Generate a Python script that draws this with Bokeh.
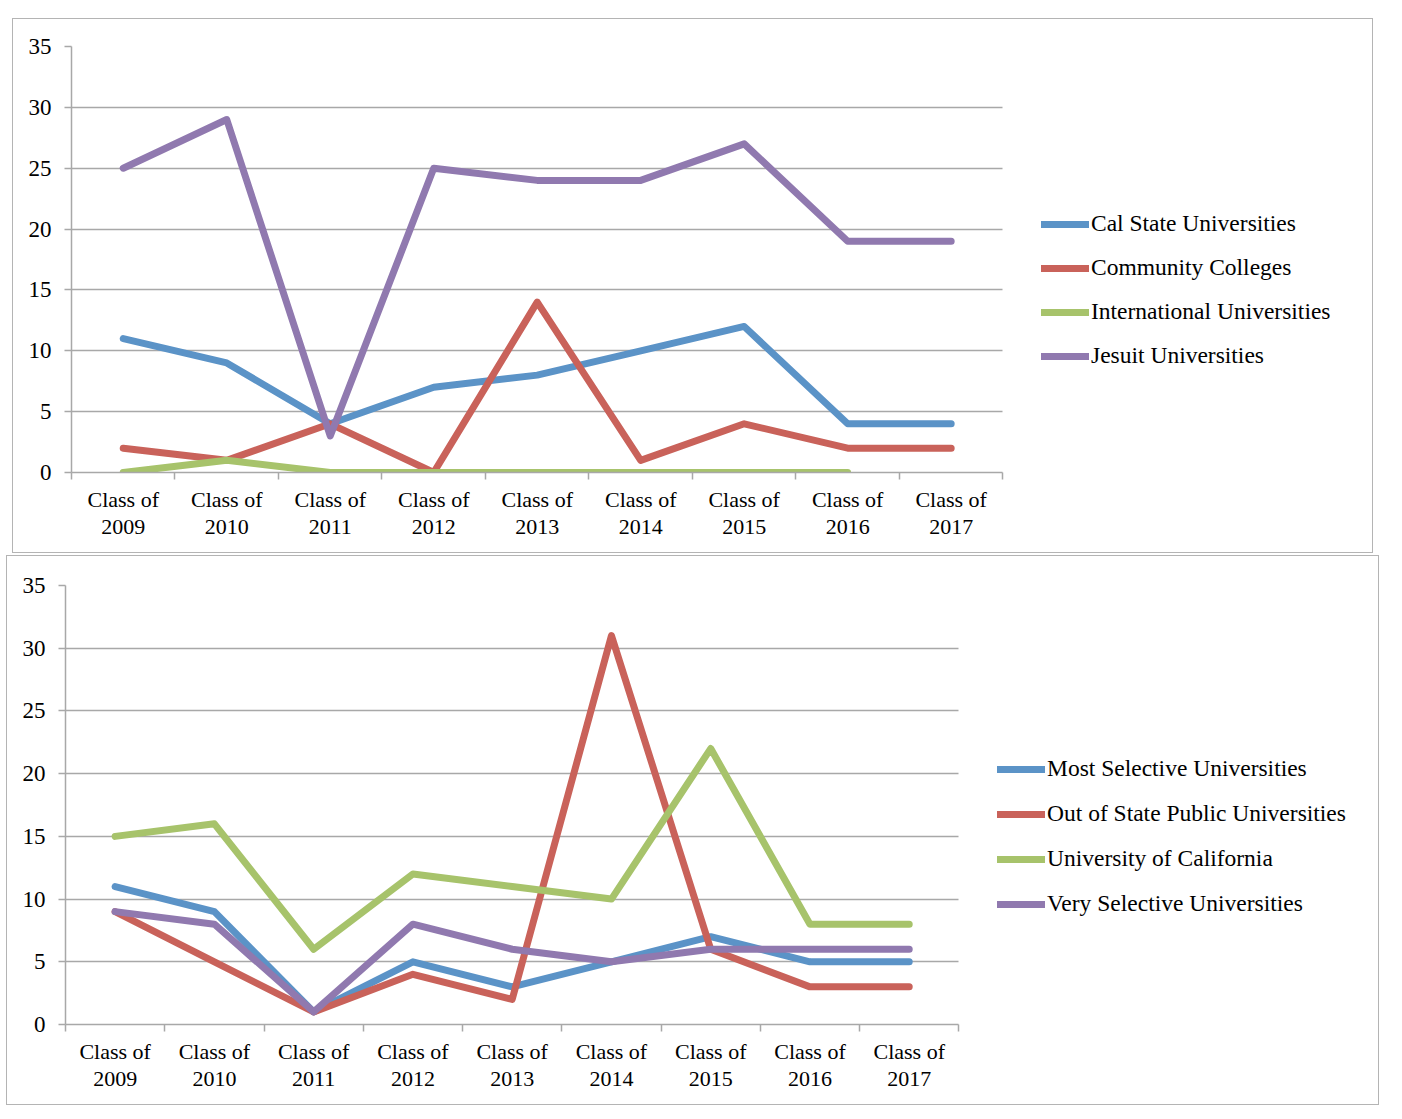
import numpy as np
from bokeh.plotting import figure
from bokeh.models import FixedTicker, Legend, LegendItem, Range1d
from bokeh.layouts import column
from bokeh.embed import file_html
from bokeh.resources import INLINE

# ---------------- data ----------------
categories = ["Class of 2009", "Class of 2010", "Class of 2011", "Class of 2012",
              "Class of 2013", "Class of 2014", "Class of 2015", "Class of 2016",
              "Class of 2017"]
y_ticks = [0, 5, 10, 15, 20, 25, 30, 35]

top_names = ["Cal State Universities", "Community Colleges",
             "International Universities", "Jesuit Universities"]
cal_state = [11, 9, 4, 7, 8, 10, 12, 4, 4]
community_colleges = [2, 1, 4, 0, 14, 1, 4, 2, 2]
international = [0, 1, 0, 0, 0, 0, 0, 0]          # no value for 2017
jesuit = [25, 29, 3, 25, 24, 24, 27, 19, 19]

bottom_names = ["Most Selective Universities", "Out of State Public Universities",
                "University of California", "Very Selective Universities"]
most_selective = [11, 9, 1, 5, 3, 5, 7, 5, 5]
out_of_state_public = [9, 5, 1, 4, 2, 31, 6, 3, 3]
univ_california = [15, 16, 6, 12, 11, 10, 22, 8, 8]
very_selective = [9, 8, 1, 8, 6, 5, 6, 6, 6]

colors = ["#5b93c7", "#c9625a", "#a7c36b", "#9079af"]

FONT = "Liberation Serif"
GRID = "#a8a8a8"


def make_chart(series, names, frame_w, data_w, frame_h, b_left, b_top, b_bottom,
               legend_xy, legend_spacing, margin):
    n = len(categories)
    centers = [i + 0.5 for i in range(n)]
    x_end = n * frame_w / data_w          # frame also holds the legend area
    p = figure(frame_width=frame_w, frame_height=frame_h, output_backend="svg",
               toolbar_location=None, x_range=Range1d(0, x_end),
               y_range=Range1d(0, 35),
               min_border_left=b_left, min_border_right=0,
               min_border_top=b_top, min_border_bottom=b_bottom)
    p.margin = margin
    p.styles = {"border": "1.5px solid #b4b4b4"}
    p.outline_line_color = None
    p.background_fill_color = "white"
    p.border_fill_color = "white"

    # x axis: labels at category centres, ticks at category boundaries
    p.xaxis.bounds = (0, n)
    p.xaxis.ticker = FixedTicker(ticks=centers, minor_ticks=list(range(n + 1)))
    p.xaxis.major_label_overrides = {
        c: lab.rsplit(" ", 1)[0] + "\n" + lab.rsplit(" ", 1)[1]
        for c, lab in zip(centers, categories)}
    p.xaxis.major_tick_line_color = None
    p.xaxis.major_tick_out = 0
    p.xaxis.major_tick_in = 0
    p.xaxis.minor_tick_line_color = GRID
    p.xaxis.minor_tick_line_width = 1.5
    p.xaxis.minor_tick_out = 7
    p.xaxis.minor_tick_in = 0
    p.xaxis.major_label_standoff = 7
    p.xaxis.major_label_text_line_height = 1.08
    p.xaxis.axis_line_color = GRID
    p.xaxis.axis_line_width = 1.5
    p.xaxis.major_label_text_font_size = "22px"

    p.yaxis.ticker = FixedTicker(ticks=y_ticks)
    p.yaxis.major_tick_out = 7
    p.yaxis.major_tick_in = 0
    p.yaxis.major_tick_line_color = GRID
    p.yaxis.major_tick_line_width = 1.5
    p.yaxis.minor_tick_line_color = None
    p.yaxis.major_label_standoff = 13
    p.yaxis.axis_line_color = GRID
    p.yaxis.axis_line_width = 1.5
    p.yaxis.major_label_text_font_size = "23px"

    for ax in (p.xaxis, p.yaxis):
        ax.major_label_text_font = FONT
        ax.major_label_text_color = "black"

    p.xgrid.grid_line_color = None
    p.ygrid.ticker = FixedTicker(ticks=y_ticks)
    p.ygrid.cross_bounds = (0, n)
    p.ygrid.grid_line_color = GRID
    p.ygrid.grid_line_width = 1.5

    items = []
    for vals, name, col in zip(series, names, colors):
        xs = centers[:len(vals)]
        r = p.line(xs, vals, line_color=col, line_width=7,
                   line_cap="round", line_join="round")
        items.append(LegendItem(label=name, renderers=[r]))

    legend = Legend(items=items, location=legend_xy)
    legend.border_line_color = None
    legend.background_fill_alpha = 0
    legend.padding = 0
    legend.margin = 0
    legend.spacing = legend_spacing
    legend.glyph_width = 48
    legend.glyph_height = 20
    legend.label_height = 20
    legend.label_standoff = 2
    legend.label_text_font = FONT
    legend.label_text_font_size = "23.5px"
    legend.label_text_color = "black"
    p.add_layout(legend, "center")
    return p


p1 = make_chart([cal_state, community_colleges, international, jesuit], top_names,
                frame_w=1301, data_w=930, frame_h=424, b_left=58, b_top=27,
                b_bottom=82, legend_xy=(970, 103), legend_spacing=17,
                margin=(18, 0, 0, 12))
p2 = make_chart([most_selective, out_of_state_public, univ_california, very_selective],
                bottom_names,
                frame_w=1313, data_w=892, frame_h=437, b_left=58, b_top=29,
                b_bottom=82, legend_xy=(932, 107), legend_spacing=18,
                margin=(2, 0, 0, 6))

layout = column(p1, p2, spacing=0)
open("out.html", "w").write(file_html(layout, INLINE))
